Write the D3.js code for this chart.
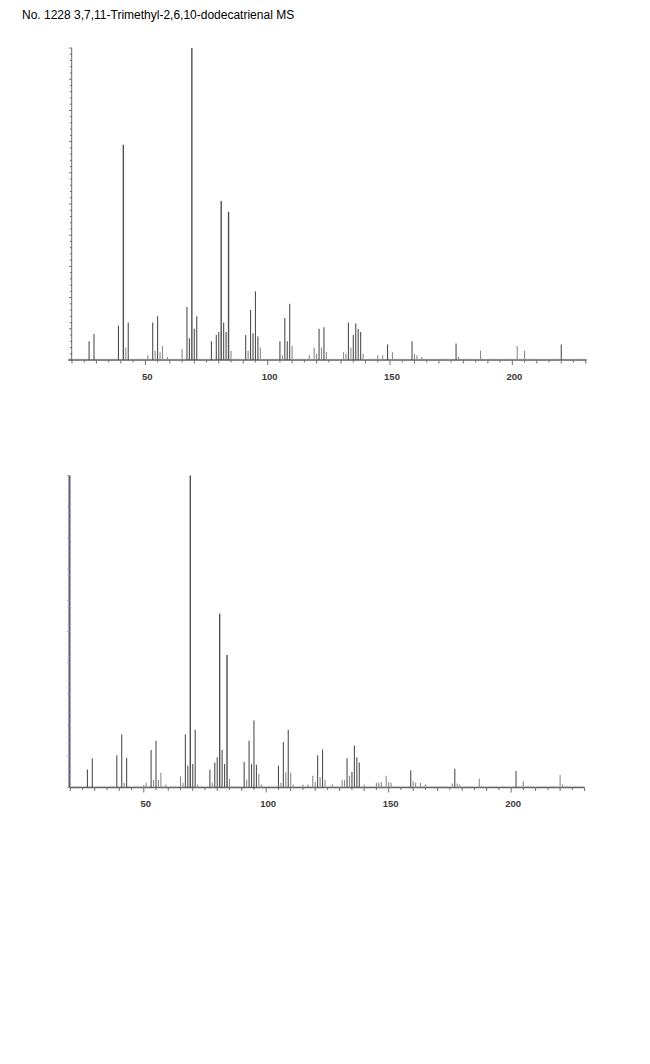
<!DOCTYPE html>
<html><head><meta charset="utf-8">
<script src="https://cdn.jsdelivr.net/npm/d3@7"></script>
<style>body{margin:0;background:#fff;}svg{display:block;}</style>
</head><body>
<svg id="c" width="650" height="1064"></svg>
<script>
const title = "No. 1228 3,7,11-Trimethyl-2,6,10-dodecatrienal MS";
const tickLabels = [50, 100, 150, 200];

// upper spectrum (m/z, relative intensity %)
const mzTop  = [27,29,39,41,42,43,51,53,54,55,56,57,59,65,67,68,69,70,71,77,79,80,81,82,83,84,85,91,92,93,94,95,96,97,105,106,107,108,109,110,117,119,120,121,122,123,124,131,132,133,134,135,136,137,138,139,145,147,149,151,159,160,161,163,177,178,187,202,205,220];
const intTop = [6,8.3,11,69,4,12,1.5,12,3,14,2.5,4.5,1,3.5,17,7,100,10,14,6,8,9,51,12,9,47.5,3,8,3,16,8.6,22,7.5,4,6,1.5,13.5,6,18,4.5,1.5,4,2,10,4,10.5,2.5,2.5,2,12,4,8,11.7,10,9,2,1.5,1.5,5,2.5,6,2,1.5,1,5.3,1,3,4.5,3,5];

// lower spectrum
const mzBot  = [27,29,39,41,42,43,50,51,53,54,55,56,57,59,65,66,67,68,69,70,71,72,77,78,79,80,81,82,83,84,85,91,92,93,94,95,96,97,98,105,106,107,108,109,110,111,115,117,119,120,121,122,123,124,127,131,132,133,134,135,136,137,138,140,145,146,147,149,150,151,159,160,161,163,165,176,177,178,179,187,202,205,220,221];
const intBot = [5.8,9.3,10.3,17,1.5,9.5,0.8,1.5,12,2.4,15,2.4,4.7,1,3.6,1.5,17,7,100,7.5,18.5,1,5.7,1.5,8,9.7,55.7,12,7.5,42.5,2.8,8.2,2.6,15,7.5,21.5,7.3,4.4,1,7,1.5,14.6,4.9,18.5,4.8,1,1,1,3.8,1.8,10.3,3.4,12.2,2.4,1,2.4,2.4,9.4,3.8,5,13.5,9.7,8,1,1.5,1.6,1.8,3.8,1.8,1.5,5.5,2,1.5,1.5,1,1.3,6,1.3,1,2.8,5.3,2,4,1];

const svg = d3.select("#c");
svg.append("text").attr("x", 22).attr("y", 19)
  .attr("font-family", "Arial, 'Liberation Sans', sans-serif").attr("font-size", 12)
  .attr("fill", "#000").text(title);

function panel(cfg, mz, inten) {
  const x = d3.scaleLinear().domain(cfg.dom).range([cfg.x0, cfg.x1]);
  const y = d3.scaleLinear().domain([0, 100]).range([cfg.base, cfg.top]);
  const g = svg.append("g");

  g.append("line").attr("x1", cfg.x0).attr("x2", cfg.x1)
    .attr("y1", cfg.base).attr("y2", cfg.base)
    .attr("stroke", "#5e5e5e").attr("stroke-width", 1.4);

  const t5 = d3.range(20, 231, 5).filter(v => x(v) >= cfg.x0 && x(v) <= cfg.x1);
  g.selectAll(".t5").data(t5).join("line")
    .attr("x1", d => x(d)).attr("x2", d => x(d))
    .attr("y1", cfg.base).attr("y2", d => cfg.base + (d % 50 === 0 ? 5 : (d % 10 === 0 ? 3.5 : 2.5)))
    .attr("stroke", "#707070").attr("stroke-width", 1);
  const t1 = d3.range(19, 231, 1).filter(v => x(v) >= cfg.x0 && x(v) <= cfg.x1 && v % 5 !== 0);
  g.selectAll(".t1").data(t1).join("line")
    .attr("x1", d => x(d)).attr("x2", d => x(d))
    .attr("y1", cfg.base - 1.3).attr("y2", cfg.base)
    .attr("stroke", "#999").attr("stroke-width", 0.8);

  g.selectAll(".lab").data(tickLabels).join("text")
    .attr("x", d => x(d) + 2).attr("y", cfg.base + 19.5)
    .attr("text-anchor", "middle")
    .attr("font-family", "Arial, 'Liberation Sans', sans-serif")
    .attr("font-size", 9.5).attr("font-weight", "bold").attr("fill", "#3a3a3a")
    .text(d => d);

  g.append("line").attr("x1", cfg.yx).attr("x2", cfg.yx)
    .attr("y1", cfg.base).attr("y2", cfg.top)
    .attr("stroke", cfg.yColor).attr("stroke-width", cfg.yWidth);
  const yt = d3.range(0, 101, 2);
  g.selectAll(".yt").data(yt).join("line")
    .attr("x1", d => cfg.yx - (d % 10 === 0 ? 2.5 : 1.8)).attr("x2", cfg.yx)
    .attr("y1", d => y(d)).attr("y2", d => y(d))
    .attr("stroke", cfg.yTickColor).attr("stroke-width", 1);

  const data = mz.map((m, i) => ({m, v: inten[i]}));
  g.selectAll(".pk").data(data).join("line")
    .attr("x1", d => x(d.m)).attr("x2", d => x(d.m))
    .attr("y1", cfg.base).attr("y2", d => y(d.v))
    .attr("stroke", d => d.v >= 5 ? "#505050" : "#8c8c8c")
    .attr("stroke-width", d => d.v >= 30 ? 1.4 : 1.1);
}

panel({dom: [18.5, 230.4], x0: 68.3, x1: 586.7, base: 360, top: 48,
       yx: 71.7, yColor: "#6a6a6a", yWidth: 1, yTickColor: "#666"}, mzTop, intTop);
panel({dom: [19.6, 230.0], x0: 69.3, x1: 584.6, base: 787.5, top: 475.5,
       yx: 69.5, yColor: "#555a75", yWidth: 2, yTickColor: "#aaa"}, mzBot, intBot);
</script>
</body></html>
